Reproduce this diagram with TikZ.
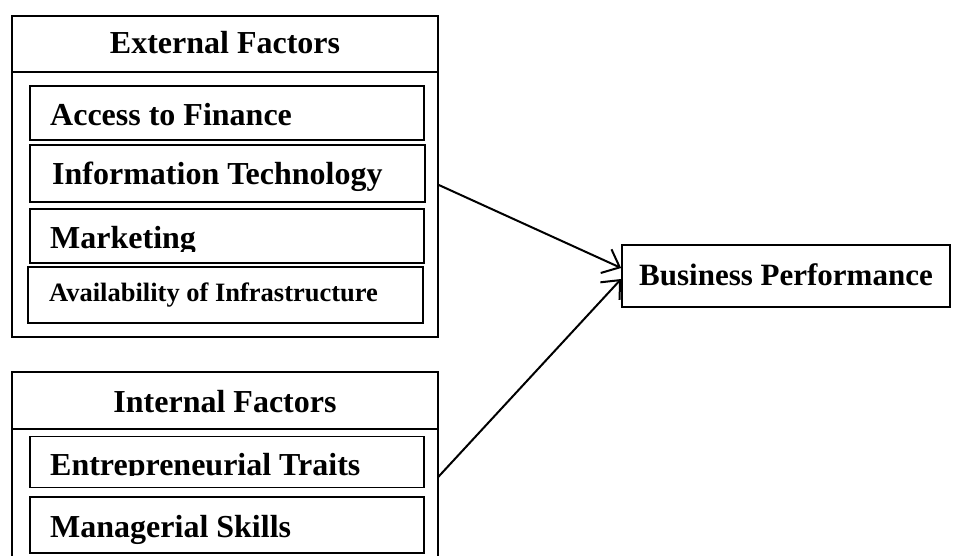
\documentclass[tikz,border=0pt]{standalone}
\usepackage{fontspec}
\setmainfont{Liberation Serif}
\usetikzlibrary{arrows.meta}
\begin{document}
\begin{tikzpicture}[x=1pt,y=-1pt,
  box/.style={draw,line width=1.7pt,inner sep=0pt,rectangle},
  lbl/.style={inner sep=0pt,anchor=base west,font=\bfseries\fontsize{32}{38}\selectfont},
  ttl/.style={inner sep=0pt,anchor=base,font=\bfseries\fontsize{32}{38}\selectfont},
  conn/.style={line width=2pt,-{Straight Barb[length=15pt,width=26pt,line width=2pt]}}]
\useasboundingbox (0,0) rectangle (960,556);
% External group
\node[box,minimum width=426pt,minimum height=321pt] (ext) at (225,176.5) {};
\node[box,minimum width=426pt,minimum height=56pt] (exth) at (225,44) {};
\node[ttl] (extt) at (225,54) {External Factors};
\node[box,minimum width=394pt,minimum height=54pt] (af) at (227,113) {};
\node[lbl] (aft) at (50,126) {Access to Finance};
\node[box,minimum width=395pt,minimum height=57pt] (it) at (227.5,173.5) {};
\node[lbl] (itt) at (52,184) {Information Technology};
\node[box,minimum width=394pt,minimum height=54pt] (mk) at (227,236) {};
\begin{scope}
\clip (30,200) rectangle (424,251);
\node[lbl] (mkt) at (50,248) {Marketing};
\end{scope}
\node[box,minimum width=395pt,minimum height=56pt] (ai) at (225.5,295) {};
\node[lbl,font=\bfseries\fontsize{26.5}{32}\selectfont] (ait) at (49,301) {Availability of Infrastructure};
% Internal group
\node[inner sep=0pt,minimum width=426pt,minimum height=184pt] (int) at (225,464) {};
\draw[line width=1.7pt] (int.south west) -- (int.north west) -- (int.north east) -- (int.south east);
\draw[line width=1.7pt] (int.west |- 0,429) -- (int.east |- 0,429);
\node[ttl] (intt) at (225,412) {Internal Factors};
\node[box,minimum width=394pt,minimum height=51pt] (et) at (227,462) {};
\begin{scope}
\clip (30,430) rectangle (424,475);
\node[lbl] (ett) at (50,475) {Entrepreneurial Traits};
\end{scope}
\node[box,minimum width=394pt,minimum height=56pt] (ms) at (227,525) {};
\node[lbl] (mst) at (50,537) {Managerial Skills};
% Business performance
\node[box,minimum width=328pt,minimum height=62pt] (bp) at (786,276) {};
\node[ttl,font=\bfseries\fontsize{31}{37}\selectfont] (bpt) at (786,285) {Business Performance};
% connectors
\draw[conn] ([yshift=-8.5pt]ext.east) -- ([yshift=8pt]bp.west);
\draw[conn] ([yshift=-13pt]int.east) -- ([yshift=-3pt]bp.west);
\end{tikzpicture}
\end{document}
